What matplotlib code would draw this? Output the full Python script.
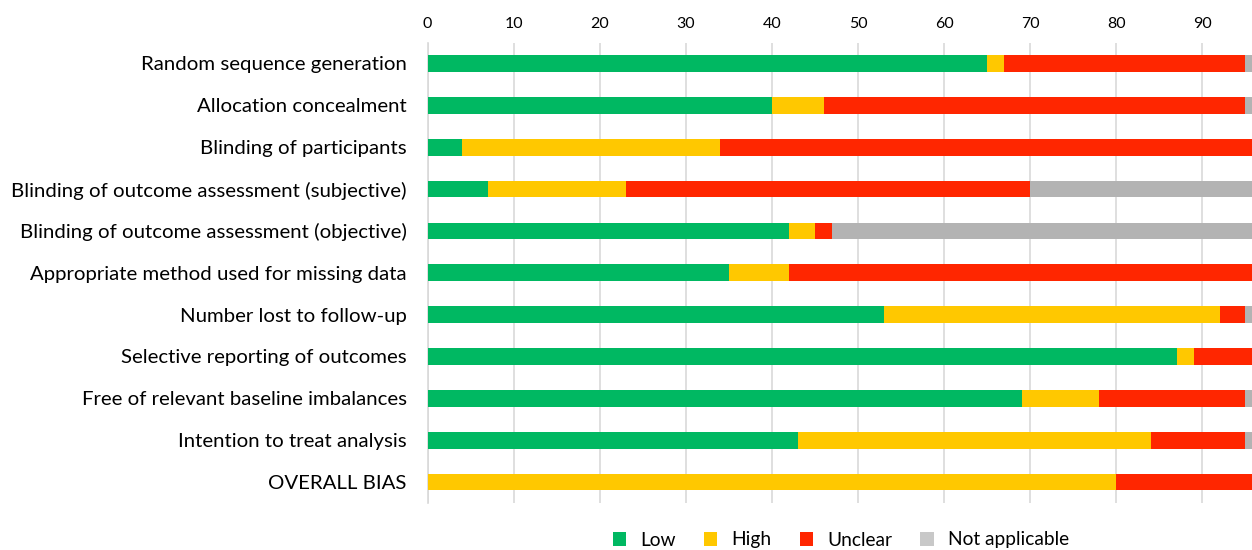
import matplotlib
matplotlib.use("Agg")
import matplotlib.pyplot as plt
from matplotlib.patches import Patch
import numpy as np

categories = [
    "Random sequence generation",
    "Allocation concealment",
    "Blinding of participants",
    "Blinding of outcome assessment (subjective)",
    "Blinding of outcome assessment (objective)",
    "Appropriate method used for missing data",
    "Number lost to follow-up",
    "Selective reporting of outcomes",
    "Free of relevant baseline imbalances",
    "Intention to treat analysis",
    "OVERALL BIAS",
]
low = [65, 40, 4, 7, 42, 35, 53, 87, 69, 43, 0]
high = [2, 6, 30, 16, 3, 7, 39, 2, 9, 41, 80]
unclear = [28, 49, 66, 47, 2, 58, 3, 11, 17, 11, 20]
not_applicable = [5, 5, 0, 30, 53, 0, 5, 0, 5, 5, 0]

series = [("Low", low, "#00B862"), ("High", high, "#FFC800"),
          ("Unclear", unclear, "#FF2600"), ("Not applicable", not_applicable, "#B3B3B3")]
legend_colors = ["#00B862", "#FFC800", "#FF2600", "#C8C8C8"]

plt.rcParams['font.family'] = ['Lato', 'DejaVu Sans']

fig = plt.figure(figsize=(12.52, 5.5), dpi=100)
ax = fig.add_axes([427.5 / 1252, 1 - 503 / 550, 1 - 427.5 / 1252, (503 - 42.5) / 550])

y = np.arange(len(categories))
left = np.zeros(len(categories))
for name, vals, col in series:
    vals = np.array(vals, dtype=float)
    ax.barh(y, vals, left=left, height=0.4, color=col, edgecolor='none', zorder=3)
    left += vals

ax.set_ylim(len(categories) - 0.5, -0.5)
ax.set_xlim(0, 95.76)
ax.set_xticks(np.arange(0, 91, 10))
ax.xaxis.tick_top()
ax.tick_params(axis='x', length=0, pad=8, labelsize=11.5, colors='#000000')
ax.set_yticks(y)
ax.set_yticklabels(categories, fontsize=14.7)
ax.tick_params(axis='y', length=0, pad=15)
ax.grid(axis='x', color='#D9D9D9', linewidth=1.2, zorder=0)
for s in ['top', 'right', 'bottom']:
    ax.spines[s].set_visible(False)
ax.spines['left'].set_color('#D9D9D9')
ax.spines['left'].set_linewidth(1.2)

handles = [Patch(facecolor=c, edgecolor='none', label=n) for (n, _, _), c in zip(series, legend_colors)]
fig.legend(handles=handles, loc='center', bbox_to_anchor=(841 / 1252, 1 - 540 / 550), ncol=4,
           frameon=False, fontsize=13.8, handlelength=0.7, handleheight=0.7,
           handletextpad=0.75, columnspacing=1.45)

fig.savefig("out.png", dpi=100)
